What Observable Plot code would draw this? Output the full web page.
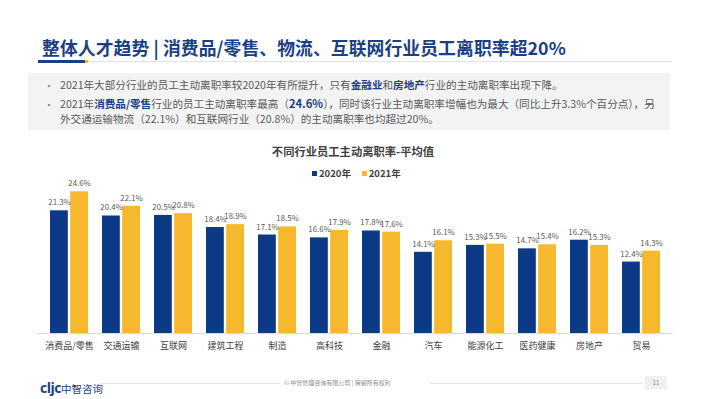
<!DOCTYPE html>
<html>
<head>
<meta charset="utf-8">
<script src="https://cdn.jsdelivr.net/npm/d3@7"></script>
<script src="https://cdn.jsdelivr.net/npm/@observablehq/plot@0.6"></script>
<style>
  html, body { margin: 0; padding: 0; background: #fff; }
  body { width: 710px; height: 399px; position: relative; overflow: hidden; font-family: "Noto Sans CJK SC", "Noto Sans", sans-serif; }
  .abs { position: absolute; }
  #title { left: 42px; top: 34px; font-size: 17.8px; font-weight: bold; color: #1b3f85; white-space: nowrap; letter-spacing: 0.1px; }
  #uline-gray { left: 38px; top: 61px; width: 634px; height: 1px; background: #e3e3e3; }
  #uline-blue { left: 38px; top: 60px; width: 47px; height: 2.5px; background: #1b3f85; }
  #uline-dot { left: 85px; top: 60px; width: 3px; height: 2.5px; background: #f5b731; }
  #box { left: 28px; top: 73px; width: 642px; height: 57px; background: #f3f3f3; }
  .bul { font-size: 10.6px; color: #595959; white-space: nowrap; line-height: 15px; }
  .dot { font-size: 10px; color: #7f7f7f; }
  .bul b { color: #1b3f85; }
  #ctitle { left: 0; width: 710px; top: 143px; text-align: center; font-size: 11.3px; font-weight: bold; color: #404040; }
  #ctitle span { position: relative; left: -2px; }
  #legend { left: 312px; top: 166px; font-size: 9.5px; color: #404040; font-weight: bold; white-space: nowrap; z-index: 2; }
  .sw { display: inline-block; width: 5px; height: 5px; margin-right: 2px; vertical-align: 1px; }
  #chart { left: 0; top: 175px; }
  #footer-logo { left: 40px; top: 374px; white-space: nowrap; color: #1b3f85; }
  #footer-logo .c { font-size: 14px; font-weight: bold; letter-spacing: -0.5px; font-family: "Open Sans", sans-serif; }
  #footer-logo .z { font-size: 10.5px; }
  #fl1 { left: 100px; top: 383px; width: 180px; height: 1px; background: #e6e6e6; }
  #fl2 { left: 430px; top: 383px; width: 212px; height: 1px; background: #e6e6e6; }
  #ftext { left: 284px; top: 378px; font-size: 6px; color: #8c8c8c; white-space: nowrap; }
  #page { left: 645px; top: 376px; width: 22px; height: 13px; background: #efefef; font-size: 6px; color: #8c8c8c; text-align: center; line-height: 13px; }
</style>
</head>
<body>
<script>
// ---- data ----
const categories = ["消费品/零售","交通运输","互联网","建筑工程","制造","高科技","金融","汽车","能源化工","医药健康","房地产","贸易"];
const values2020 = [21.3, 20.4, 20.5, 18.4, 17.1, 16.6, 17.8, 14.1, 15.3, 14.7, 16.2, 12.4];
const values2021 = [24.6, 22.1, 20.8, 18.9, 18.5, 17.9, 17.6, 16.1, 15.5, 15.4, 15.3, 14.3];
const seriesNames = ["2020年", "2021年"];
const titleText = "整体人才趋势 | 消费品/零售、物流、互联网行业员工离职率超20%";
const chartTitle = "不同行业员工主动离职率-平均值";
</script>

<div class="abs" id="title"></div>
<div class="abs" id="uline-gray"></div>
<div class="abs" id="uline-blue"></div>
<div class="abs" id="uline-dot"></div>

<div class="abs" id="box"></div>
<div class="abs dot" style="left:44px;top:78px;">•</div>
<div class="abs bul" style="left:60px;top:77px;">2021年大部分行业的员工主动离职率较2020年有所提升，只有<b>金融业</b>和<b>房地产</b>行业的主动离职率出现下降。</div>
<div class="abs dot" style="left:44px;top:97px;">•</div>
<div class="abs bul" style="left:60px;top:96px;">2021年<b>消费品/零售</b>行业的员工主动离职率最高（<b style="font-size:11.2px">24.6%</b>），同时该行业主动离职率增幅也为最大（同比上升3.3%个百分点），另<br>外交通运输物流（22.1%）和互联网行业（20.8%）的主动离职率也均超过20%。</div>

<div class="abs" id="ctitle"><span></span></div>
<div class="abs" id="legend"><span class="sw" style="background:#0d3a85"></span><span id="l1"></span>&nbsp;&nbsp;&nbsp;&nbsp;&nbsp;<span class="sw" style="background:#f6b92e"></span><span id="l2"></span></div>

<div class="abs" id="chart"></div>

<div class="abs" id="footer-logo"><span class="c">cljc</span><span class="z">中智咨询</span></div>
<div class="abs" id="fl1"></div>
<div class="abs" id="ftext">© 中智管理咨询有限公司 | 保留所有权利</div>
<div class="abs" id="fl2"></div>
<div class="abs" id="page">11</div>

<script>
document.getElementById("title").textContent = titleText;
document.querySelector("#ctitle span").textContent = chartTitle;
document.getElementById("l1").textContent = seriesNames[0];
document.getElementById("l2").textContent = seriesNames[1];

const d2020 = categories.map((c, i) => ({category: c, value: values2020[i]}));
const d2021 = categories.map((c, i) => ({category: c, value: values2021[i]}));
const blue = "#0d3a85", yellow = "#f6b92e";
const fmt = d => d.value.toFixed(1) + "%";

const chart = Plot.plot({
  width: 710,
  height: 185,
  marginTop: 14,
  marginBottom: 27,
  marginLeft: 37.5,
  marginRight: 37.5,
  style: {fontFamily: "'Noto Sans CJK SC', sans-serif", background: "transparent"},
  x: {domain: categories, padding: 0, label: null, tickSize: 0, tickPadding: 9},
  y: {domain: [0, 25], axis: null},
  marks: [
    Plot.barY(d2020, {x: "category", y: "value", fill: blue, insetLeft: 7, insetRight: 27.2}),
    Plot.barY(d2021, {x: "category", y: "value", fill: yellow, insetLeft: 27.2, insetRight: 7}),
    Plot.ruleY([0], {stroke: "#d9d9d9", strokeWidth: 1}),
    Plot.text(d2020, {x: "category", y: "value", text: fmt, dx: -10, dy: -8, fontSize: 7.8, fill: "#595959"}),
    Plot.text(d2021, {x: "category", y: "value", text: fmt, dx: 10, dy: -8, fontSize: 7.8, fill: "#595959"}),
    Plot.axisX({tickSize: 0, tickPadding: 9, fontSize: 9, fill: "#404040", label: null})
  ]
});
document.getElementById("chart").appendChild(chart);
</script>
</body>
</html>
